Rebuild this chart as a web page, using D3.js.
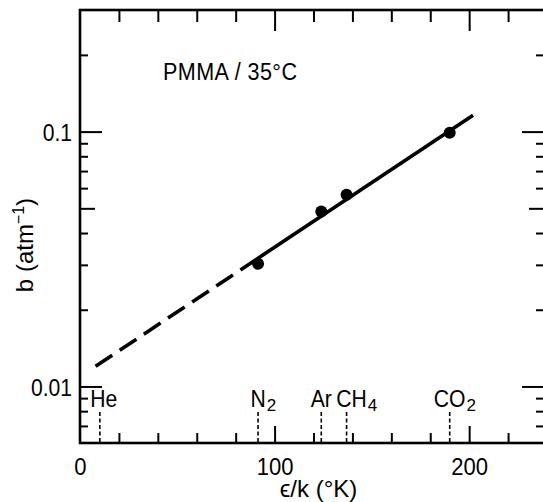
<!DOCTYPE html>
<html>
<head>
<meta charset="utf-8">
<script src="https://cdn.jsdelivr.net/npm/d3@7"></script>
<style>
  body { margin: 0; background: #fff; }
  svg { display: block; }
  text { font-family: "Liberation Sans", Arial, sans-serif; fill: #000; }
</style>
</head>
<body>
<svg id="chart" width="543" height="502"></svg>
<script>
// Gas markers along the epsilon/k axis
const gasMain = ["He", "N", "Ar", "CH", "CO"];
const gasSub = ["", "2", "", "4", "2"];
const gasEpsK = [10.2, 91.5, 124, 137, 190];

// Measured b values (atm^-1) for PMMA at 35 C
const pointEpsK = [91.5, 124, 137, 190];
const pointB = [0.0303, 0.0486, 0.0565, 0.099];

// Correlation line: dashed extrapolation, then solid over the data
const fitDashEpsK = [8, 90];
const fitDashB = [0.0120, 0.0313];
const fitSolidEpsK = [90, 202];
const fitSolidB = [0.0313, 0.116];

// Axis ranges and labelled ticks
const xDomain = [0, 240];
const yDomain = [0.006, 0.3];
const xTickLabels = [0, 100, 200];
const xMinorStep = 20;
const yTickLabels = [0.01, 0.1];

const svg = d3.select("#chart");
const box = { left: 80, top: 10, right: 547, bottom: 443 };

const x = d3.scaleLinear().domain(xDomain).range([box.left, box.right]);
const y = d3.scaleLog().domain(yDomain).range([box.bottom, box.top]);

// Narrow the lettering horizontally about its own anchor point
function squeeze(sel, k) {
  sel.each(function () {
    const t = d3.select(this);
    const tx = +t.attr("x") || 0, ty = +t.attr("y") || 0;
    t.attr("transform", `translate(${tx},${ty}) scale(${k},1) translate(${-tx},${-ty})`);
  });
}

const xTicks = d3.range(xDomain[0] + xMinorStep, xDomain[1], xMinorStep)
  .concat([xDomain[0]]);
const yTicks = y.ticks().filter(v => v > yDomain[0] * 1.001 && v < yDomain[1] * 0.999);

const isMajorX = v => xTickLabels.includes(v);
function yLen(v) {
  const e = Math.log10(v);
  if (Math.abs(e - Math.round(e)) < 1e-6) return 22;
  const m = v / Math.pow(10, Math.floor(e + 1e-9));
  if (Math.abs(m - 5) < 1e-6) return 15;
  return 8;
}

const fmtY = v => yTickLabels.some(t => Math.abs(t - v) < 1e-9) ? String(v) : "";
const fmtX = v => isMajorX(v) ? String(v) : "";

// Bottom axis (ticks point inward)
const gB = svg.append("g").attr("transform", `translate(0,${box.bottom})`)
  .call(d3.axisBottom(x).tickValues(xTicks).tickSizeInner(-10).tickSizeOuter(0)
    .tickFormat(fmtX));
gB.selectAll(".tick line").attr("y2", d => d === 0 ? 0 : (isMajorX(d) ? -17 : -10));
gB.selectAll(".tick text").attr("y", 32).attr("dy", 0).style("font-size", "24px")
  .call(squeeze, 0.92);

// Top axis
const gT = svg.append("g").attr("transform", `translate(0,${box.top})`)
  .call(d3.axisTop(x).tickValues(xTicks.filter(v => v > 0)).tickSizeInner(-12)
    .tickSizeOuter(0).tickFormat(""));
gT.selectAll(".tick line").attr("y2", d => isMajorX(d) ? 21 : 12);

// Left axis
const gL = svg.append("g").attr("transform", `translate(${box.left},0)`)
  .call(d3.axisLeft(y).tickValues(yTicks).tickSizeInner(-8).tickSizeOuter(0)
    .tickPadding(8).tickFormat(fmtY));
gL.selectAll(".tick line").attr("x2", d => yLen(d));
gL.selectAll(".tick text").style("font-size", "24px").attr("dy", "0.36em")
  .call(squeeze, 0.88);

// Right axis
const gR = svg.append("g").attr("transform", `translate(${box.right},0)`)
  .call(d3.axisRight(y).tickValues(yTicks).tickSizeInner(-8).tickSizeOuter(0)
    .tickFormat(""));
gR.selectAll(".tick line").attr("x2", d => -yLen(d) - 3);

svg.selectAll(".domain").remove();
svg.selectAll(".tick line").attr("stroke", "#000").attr("stroke-width", 2);

// Frame
svg.append("rect")
  .attr("x", box.left).attr("y", box.top)
  .attr("width", box.right - box.left).attr("height", box.bottom - box.top)
  .attr("fill", "none").attr("stroke", "#000").attr("stroke-width", 2.6);

// Gas markers: short dashed drops to the axis with formula labels
const gasNudge = { CH: 5, He: 4 };
const gGas = svg.append("g");
gasEpsK.forEach((e, i) => {
  const px = x(e);
  gGas.append("line")
    .attr("x1", px).attr("x2", px)
    .attr("y1", 412).attr("y2", box.bottom)
    .attr("stroke", "#000").attr("stroke-width", 1.6)
    .attr("stroke-dasharray", "4,2.5");
  const cx = px + (gasNudge[gasMain[i]] || 0);
  const t = gGas.append("text")
    .attr("x", cx).attr("y", 407)
    .attr("text-anchor", "middle")
    .style("font-size", "23px")
    .text(gasMain[i]);
  const w = t.node().getComputedTextLength() * 0.92;
  squeeze(t, 0.92);
  if (gasSub[i]) {
    gGas.append("text")
      .attr("x", cx + w / 2 + 1).attr("y", 411)
      .style("font-size", "17px")
      .text(gasSub[i]);
  }
});

// Correlation line
const line = d3.line().x(d => x(d[0])).y(d => y(d[1]));
svg.append("path")
  .datum(d3.zip(fitDashEpsK, fitDashB))
  .attr("d", line)
  .attr("fill", "none").attr("stroke", "#000").attr("stroke-width", 3.6)
  .attr("stroke-dasharray", "20,9");
svg.append("path")
  .datum(d3.zip(fitSolidEpsK, fitSolidB))
  .attr("d", line)
  .attr("fill", "none").attr("stroke", "#000").attr("stroke-width", 3.6);

// Data points
svg.append("g").selectAll("circle")
  .data(d3.zip(pointEpsK, pointB))
  .join("circle")
  .attr("cx", d => x(d[0])).attr("cy", d => y(d[1]))
  .attr("r", 6).attr("fill", "#000");

// Annotation
svg.append("text")
  .attr("x", 163).attr("y", 80)
  .style("font-size", "24.5px")
  .style("letter-spacing", "0.5px")
  .text("PMMA / 35°C")
  .call(squeeze, 0.88);

// Axis titles
svg.append("text")
  .attr("x", (box.left + box.right) / 2 + 5).attr("y", 497)
  .attr("text-anchor", "middle")
  .style("font-size", "24px")
  .text("ϵ/k (°K)");

const yt = svg.append("text")
  .attr("transform", "translate(33,245) rotate(-90)")
  .attr("text-anchor", "middle")
  .style("font-size", "24px");
yt.append("tspan").text("b (atm");
yt.append("tspan").attr("dy", -9).style("font-size", "16px").text("−1");
yt.append("tspan").attr("dy", 9).text(")");
</script>
</body>
</html>
